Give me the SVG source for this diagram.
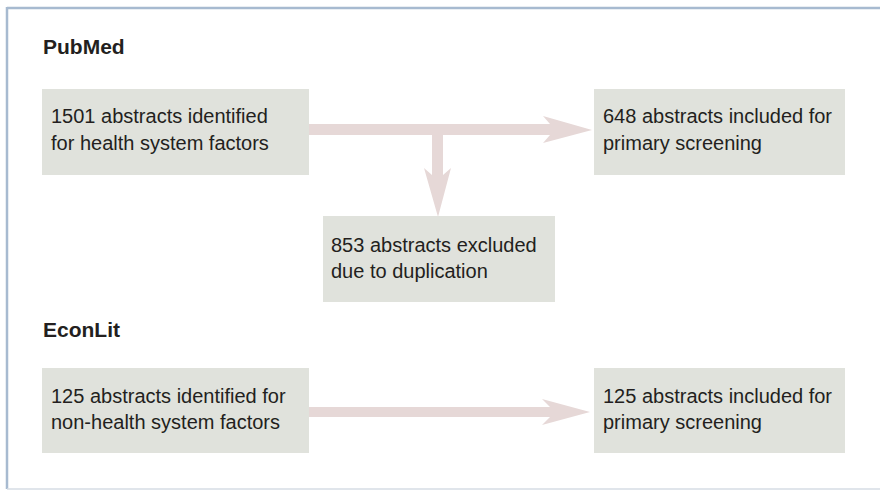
<svg xmlns="http://www.w3.org/2000/svg" width="880" height="490" viewBox="0 0 880 490">
  <style>
    .box { fill: #e0e2dc; }
    .t { font-family: "Liberation Sans", Arial, sans-serif; font-size: 20px; fill: #231f20; }
    .h { font-family: "Liberation Sans", Arial, sans-serif; font-size: 21px; font-weight: bold; fill: #231f20; }
    .arrow { fill: #e6d8d7; }
  </style>
  <rect x="0" y="0" width="880" height="490" fill="#ffffff"/>
  <g id="frame">
    <line x1="7" y1="8" x2="880" y2="8" stroke="#a7bad0" stroke-width="2.5"/>
    <line x1="7" y1="7" x2="7" y2="489" stroke="#a7bad0" stroke-width="2.5"/>
    <line x1="7" y1="489" x2="880" y2="489" stroke="#d6dce5" stroke-width="1.5"/>
  </g>
  <g id="connectors">
    <path class="arrow" d="M309,124 H550 L543,116 L592,130 L543,143 L550,135 H443 V175 L451,168 L438,217 L424,168 L432,175 V135 H309 Z"/>
    <path class="arrow" d="M309,407 H550 L542,399 L590,412 L542,425 L550,417 H309 Z"/>
  </g>
  <g id="label-pubmed">
    <text class="h" x="43" y="54">PubMed</text>
  </g>
  <g id="label-econlit">
    <text class="h" x="43" y="337">EconLit</text>
  </g>
  <g id="n1501">
    <rect class="box" x="42" y="89" width="267" height="86"/>
    <text class="t" x="51" y="123">1501 abstracts identified</text>
    <text class="t" x="51" y="150">for health system factors</text>
  </g>
  <g id="n648">
    <rect class="box" x="594" y="89" width="251" height="86"/>
    <text class="t" x="603" y="123">648 abstracts included for</text>
    <text class="t" x="603" y="150">primary screening</text>
  </g>
  <g id="n853">
    <rect class="box" x="323" y="216" width="232" height="86"/>
    <text class="t" x="331" y="252">853 abstracts excluded</text>
    <text class="t" x="331" y="278">due to duplication</text>
  </g>
  <g id="n125a">
    <rect class="box" x="42" y="368" width="267" height="85"/>
    <text class="t" x="51" y="403">125 abstracts identified for</text>
    <text class="t" x="51" y="429">non-health system factors</text>
  </g>
  <g id="n125b">
    <rect class="box" x="594" y="368" width="251" height="85"/>
    <text class="t" x="603" y="403">125 abstracts included for</text>
    <text class="t" x="603" y="429">primary screening</text>
  </g>
</svg>
